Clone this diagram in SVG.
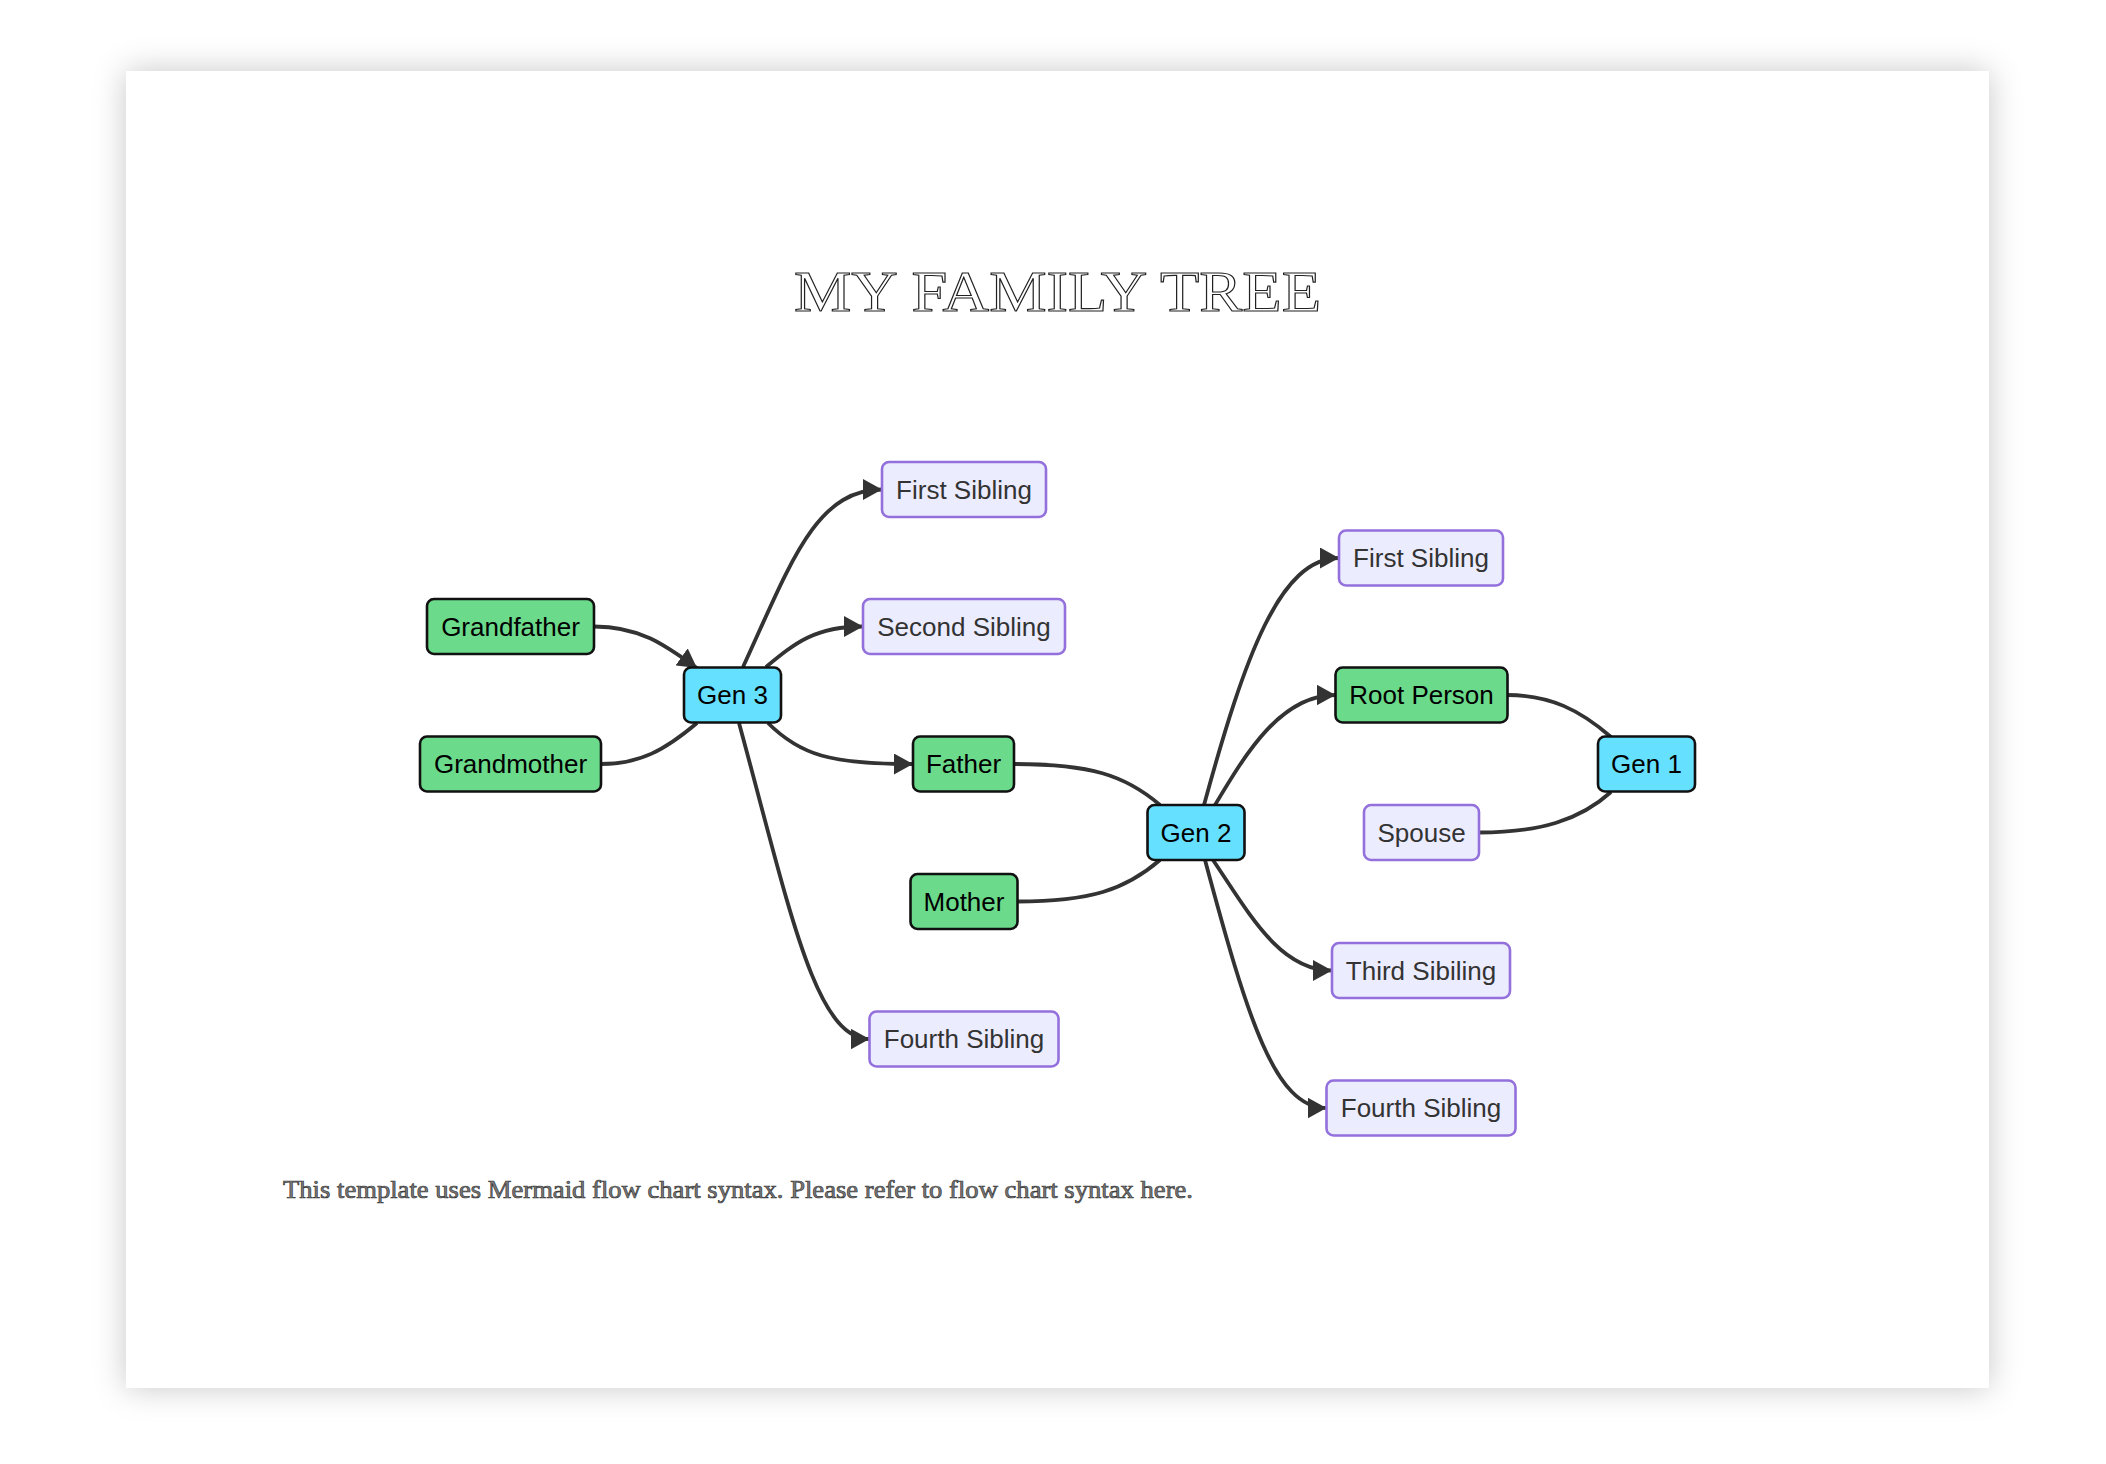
<svg xmlns="http://www.w3.org/2000/svg" width="2106" height="1464" viewBox="0 0 2106 1464">
<defs>
<filter id="pageShadow" x="-10%" y="-10%" width="120%" height="120%">
<feDropShadow dx="0" dy="0" stdDeviation="16" flood-color="#000" flood-opacity="0.22"/>
</filter>
<marker id="arrow" viewBox="0 0 19 21" refX="19" refY="10.5" markerWidth="19" markerHeight="21" markerUnits="userSpaceOnUse" orient="auto">
<path d="M0,0 L19,10.5 L0,21 z" fill="#333"/>
</marker>
<style>
.edge{fill:none;stroke:#333;stroke-width:3.8}
.green rect{fill:#6bda8b;stroke:#111;stroke-width:2.6}
.cyan rect{fill:#66e0ff;stroke:#111;stroke-width:2.6}
.purple rect{fill:#ececff;stroke:#9370db;stroke-width:2.6}
.node text{font-family:"Liberation Sans",Arial,sans-serif;font-size:26px;text-anchor:middle}
.green text,.cyan text{fill:#000}
.purple text{fill:#333}
</style>
</defs>
<rect x="0" y="0" width="2106" height="1464" fill="#fff"/>
<rect x="126" y="71" width="1863" height="1317" fill="#fff" filter="url(#pageShadow)"/>
<text x="794" y="311" textLength="527" lengthAdjust="spacingAndGlyphs" font-family="'Liberation Serif','Times New Roman',serif" font-size="58" fill="#fff" stroke="#222" stroke-width="1.1">MY FAMILY TREE</text>

<g id="connectors">
<path class="edge" d="M594,626.5 C640,626.5 665,645 697,668" marker-end="url(#arrow)"/>
<path class="edge" d="M601,764 C640,764 665,750 697,723"/>
<path class="edge" d="M743,667 C790,565 815,489.5 882,489.5" marker-end="url(#arrow)"/>
<path class="edge" d="M766,667 C795,643 815,626.5 863,626.5" marker-end="url(#arrow)"/>
<path class="edge" d="M768,723 C800,755 830,764 913,764" marker-end="url(#arrow)"/>
<path class="edge" d="M739,723 C790,910 815,1039 869.5,1039" marker-end="url(#arrow)"/>
<path class="edge" d="M1014,764 C1090,764 1125,775 1160,805"/>
<path class="edge" d="M1017.5,901.5 C1090,901.5 1125,890 1160,860"/>
<path class="edge" d="M1204,805 C1245,655 1280,558 1339,558" marker-end="url(#arrow)"/>
<path class="edge" d="M1215,805 C1245,755 1280,695 1335.5,695" marker-end="url(#arrow)"/>
<path class="edge" d="M1213,860 C1250,915 1280,970.5 1332,970.5" marker-end="url(#arrow)"/>
<path class="edge" d="M1205,860 C1248,1020 1275,1108 1326.5,1108" marker-end="url(#arrow)"/>
<path class="edge" d="M1507.5,695 C1550,695 1580,710 1611,737"/>
<path class="edge" d="M1479,832.5 C1540,832.5 1580,820 1611,792"/>
</g>

<g id="grandfather" class="node green"><rect x="427" y="599" width="167" height="55" rx="7"/><text x="510.5" y="635.5">Grandfather</text></g>
<g id="grandmother" class="node green"><rect x="420" y="736.5" width="181" height="55" rx="7"/><text x="510.5" y="773">Grandmother</text></g>
<g id="gen3" class="node cyan"><rect x="684" y="667.5" width="97" height="55" rx="7"/><text x="732.5" y="704">Gen 3</text></g>
<g id="first-sibling-3" class="node purple"><rect x="882" y="462" width="164" height="55" rx="7"/><text x="964" y="498.5">First Sibling</text></g>
<g id="second-sibling-3" class="node purple"><rect x="863" y="599" width="202" height="55" rx="7"/><text x="964" y="635.5">Second Sibling</text></g>
<g id="father" class="node green"><rect x="913" y="736.5" width="101" height="55" rx="7"/><text x="963.5" y="773">Father</text></g>
<g id="mother" class="node green"><rect x="910.5" y="874" width="107" height="55" rx="7"/><text x="964" y="910.5">Mother</text></g>
<g id="fourth-sibling-3" class="node purple"><rect x="869.5" y="1011.5" width="189" height="55" rx="7"/><text x="964" y="1048">Fourth Sibling</text></g>
<g id="gen2" class="node cyan"><rect x="1147.5" y="805" width="97" height="55" rx="7"/><text x="1196" y="841.5">Gen 2</text></g>
<g id="first-sibling-2" class="node purple"><rect x="1339" y="530.5" width="164" height="55" rx="7"/><text x="1421" y="567">First Sibling</text></g>
<g id="root-person" class="node green"><rect x="1335.5" y="667.5" width="172" height="55" rx="7"/><text x="1421.5" y="704">Root Person</text></g>
<g id="spouse" class="node purple"><rect x="1364" y="805" width="115" height="55" rx="7"/><text x="1421.5" y="841.5">Spouse</text></g>
<g id="gen1" class="node cyan"><rect x="1598" y="736.5" width="97" height="55" rx="7"/><text x="1646.5" y="773">Gen 1</text></g>
<g id="third-sibling-2" class="node purple"><rect x="1332" y="943" width="178" height="55" rx="7"/><text x="1421" y="979.5">Third Sibiling</text></g>
<g id="fourth-sibling-2" class="node purple"><rect x="1326.5" y="1080.5" width="189" height="55" rx="7"/><text x="1421" y="1117">Fourth Sibling</text></g>

<text x="283" y="1198" textLength="910" lengthAdjust="spacingAndGlyphs" font-family="'Liberation Serif','Times New Roman',serif" font-size="26" fill="#7a7a7a" stroke="#3a3a3a" stroke-width="0.7">This template uses Mermaid flow chart syntax. Please refer to flow chart syntax here.</text>
</svg>
